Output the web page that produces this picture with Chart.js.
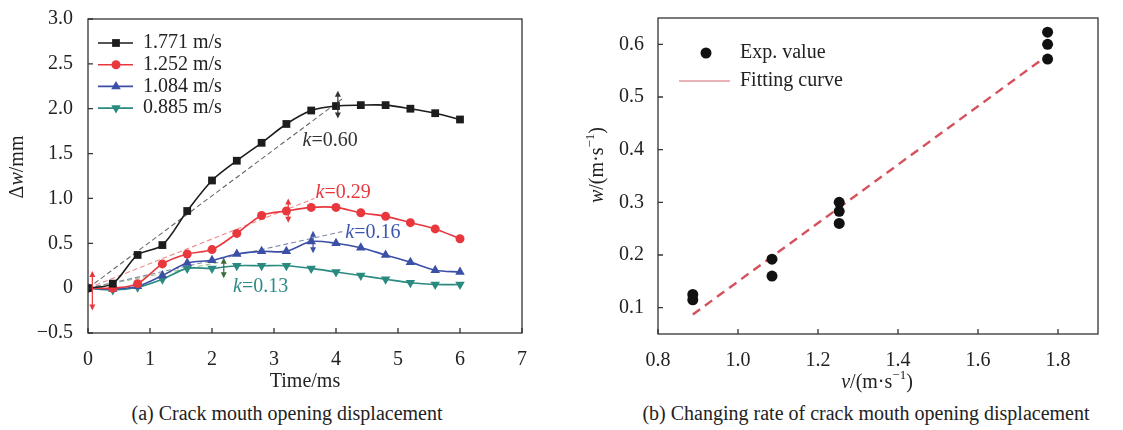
<!DOCTYPE html>
<html>
<head>
<meta charset="utf-8">
<script src="https://cdn.jsdelivr.net/npm/chart.js@4.4.1/dist/chart.umd.min.js"></script>
<style>
  body { margin: 0; background: #fff; width: 1123px; height: 430px; position: relative; overflow: hidden; font-family: "Liberation Serif", "Times New Roman", serif; }
  #left { position: absolute; left: 0; top: 0; }
  #right { position: absolute; left: 580px; top: 0; }
  .cap { position: absolute; top: 401px; font-size: 20px; line-height: 24px; color: #222; white-space: nowrap; transform: translateX(-50%); }
</style>
</head>
<body>
<canvas id="left" width="560" height="400"></canvas>
<canvas id="right" width="543" height="400"></canvas>
<div class="cap" style="left:287px">(a) Crack mouth opening displacement</div>
<div class="cap" style="left:866px">(b) Changing rate of crack mouth opening displacement</div>
<script>
const FONT = '"Liberation Serif", "Times New Roman", serif';

// ---- (a) crack mouth opening displacement ----
const times = [0, 0.4, 0.8, 1.2, 1.6, 2.0, 2.4, 2.8, 3.2, 3.6, 4.0, 4.4, 4.8, 5.2, 5.6, 6.0];
const speedLabels = ['1.771 m/s', '1.252 m/s', '1.084 m/s', '0.885 m/s'];
const dw1771 = [0, 0.05, 0.37, 0.48, 0.86, 1.20, 1.42, 1.62, 1.83, 1.98, 2.03, 2.04, 2.04, 2.00, 1.95, 1.88];
const dw1252 = [0, 0.00, 0.05, 0.27, 0.38, 0.43, 0.61, 0.81, 0.86, 0.90, 0.90, 0.84, 0.80, 0.73, 0.66, 0.55];
const dw1084 = [0, -0.01, 0.02, 0.14, 0.28, 0.31, 0.38, 0.41, 0.41, 0.52, 0.50, 0.45, 0.37, 0.29, 0.20, 0.18];
const dw0885 = [0, -0.02, 0.01, 0.10, 0.22, 0.22, 0.25, 0.25, 0.25, 0.22, 0.18, 0.14, 0.10, 0.06, 0.04, 0.04];
const seriesColors = ['#1c1c1c', '#e8383e', '#3b4fa6', '#2a8a80'];
const pointStyles = ['rect', 'circle', 'triangle', 'triangle'];
const pointRot = [0, 0, 0, 180];
const pointSizes = [5.5, 4.5, 5.5, 5.5];

// dashed slope lines (start/end in data units)
const fitT = [[0, 4.1], [0, 3.65], [0, 4.1], [0, 2.2]];
const fitW = [[0, 2.11], [0, 1.0], [0, 0.63], [0, 0.30]];
const fitColors = ['#666', '#ee8a8a', '#7d8aa8', '#9cc48c'];
const kValues = ['0.60', '0.29', '0.16', '0.13'];
const kColors = ['#333', '#e8383e', '#3a56ad', '#2e8b87'];
const kT = [3.46, 3.67, 4.15, 2.34];
const kW = [1.64, 1.06, 0.62, 0.01];

// double-headed arrows
const arrowT = [0.07, 4.03, 3.23, 3.63, 2.19];
const arrowTop = [0.19, 2.20, 1.00, 0.64, 0.34];
const arrowBottom = [-0.25, 1.89, 0.73, 0.39, 0.11];
const arrowColors = ['#e8383e', '#333', '#e8383e', '#3b4fa6', '#3d6b3a'];

const xTicksL = [0, 1, 2, 3, 4, 5, 6, 7];
const yTicksL = [-0.5, 0, 0.5, 1.0, 1.5, 2.0, 2.5, 3.0];
const yLabelsL = ['\u22120.5', '0', '0.5', '1.0', '1.5', '2.0', '2.5', '3.0'];

// ---- (b) changing rate ----
const vExp = [1.774, 1.774, 1.774, 1.253, 1.253, 1.253, 1.085, 1.085, 0.887, 0.887];
const wExp = [0.623, 0.600, 0.572, 0.300, 0.283, 0.260, 0.192, 0.160, 0.125, 0.115];
const fitV = [0.887, 1.774];
const fitRate = [0.087, 0.579];
const xTicksR = [0.8, 1.0, 1.2, 1.4, 1.6, 1.8];
const xLabelsR = ['0.8', '1.0', '1.2', '1.4', '1.6', '1.8'];
const yTicksR = [0.1, 0.2, 0.3, 0.4, 0.5, 0.6];
const yLabelsR = ['0.1', '0.2', '0.3', '0.4', '0.5', '0.6'];

// text helper: parts = [{t, i, sup}]
function drawRich(ctx, parts, x, y, size, color, align) {
  ctx.save();
  ctx.fillStyle = color;
  ctx.textBaseline = 'middle';
  ctx.textAlign = 'left';
  const fonts = parts.map(p => (p.i ? 'italic ' : '') + (p.sup ? Math.round(size * 0.65) : size) + 'px ' + FONT);
  let total = 0;
  const widths = parts.map((p, k) => { ctx.font = fonts[k]; const w = ctx.measureText(p.t).width; total += w; return w; });
  let cx = align === 'center' ? x - total / 2 : (align === 'right' ? x - total : x);
  parts.forEach((p, k) => {
    ctx.font = fonts[k];
    ctx.fillText(p.t, cx, p.sup ? y - size * 0.35 : y);
    cx += widths[k];
  });
  ctx.restore();
}

function drawMarker(ctx, style, x, y, r, color, rot) {
  ctx.save();
  ctx.fillStyle = color;
  ctx.beginPath();
  if (style === 'rect') {
    const s = r * Math.SQRT1_2;
    ctx.rect(x - s, y - s, 2 * s, 2 * s);
  } else if (style === 'circle') {
    ctx.arc(x, y, r, 0, Math.PI * 2);
  } else {
    const d = rot ? -1 : 1;
    ctx.moveTo(x, y - d * r);
    ctx.lineTo(x + r * 0.866, y + d * r * 0.5);
    ctx.lineTo(x - r * 0.866, y + d * r * 0.5);
    ctx.closePath();
  }
  ctx.fill();
  ctx.restore();
}

const framePlugin = {
  id: 'frame',
  afterDraw(chart) {
    const { ctx, chartArea: a, scales: { x, y } } = chart;
    ctx.save();
    ctx.strokeStyle = '#333';
    ctx.lineWidth = 1.3;
    ctx.strokeRect(a.left, a.top, a.width, a.height);
    ctx.beginPath();
    x.ticks.forEach(t => { const p = x.getPixelForValue(t.value); ctx.moveTo(p, a.bottom); ctx.lineTo(p, a.bottom - 5); });
    y.ticks.forEach(t => { const p = y.getPixelForValue(t.value); ctx.moveTo(a.left, p); ctx.lineTo(a.left + 5, p); });
    ctx.stroke();
    ctx.restore();
  }
};

function tickFont() { return { family: FONT, size: 20 }; }

// left chart
const leftDatasets = [dw1771, dw1252, dw1084, dw0885].map((vals, i) => ({
  label: speedLabels[i],
  data: times.map((t, k) => ({ x: t, y: vals[k] })),
  borderColor: seriesColors[i],
  backgroundColor: seriesColors[i],
  borderWidth: 1.6,
  tension: 0.3,
  pointStyle: pointStyles[i],
  rotation: pointRot[i],
  pointRadius: pointSizes[i],
  pointBorderWidth: 0,
  order: i
}));
const fitDatasets = fitT.map((ts, i) => ({
  label: 'fit' + i,
  data: ts.map((t, k) => ({ x: t, y: fitW[i][k] })),
  borderColor: fitColors[i],
  borderWidth: 1.1,
  borderDash: [5, 3],
  pointRadius: 0,
  tension: 0,
  order: 10 + i
}));

const leftExtras = {
  id: 'leftExtras',
  afterDraw(chart) {
    const { ctx, scales: { x, y } } = chart;
    // arrows
    arrowT.forEach((t, i) => {
      const px = x.getPixelForValue(t), y1 = y.getPixelForValue(arrowTop[i]), y2 = y.getPixelForValue(arrowBottom[i]);
      ctx.save();
      ctx.strokeStyle = arrowColors[i]; ctx.fillStyle = arrowColors[i]; ctx.lineWidth = 1.2;
      ctx.beginPath(); ctx.moveTo(px, y1 + 3); ctx.lineTo(px, y2 - 3); ctx.stroke();
      ctx.beginPath(); ctx.moveTo(px, y1); ctx.lineTo(px - 3, y1 + 6); ctx.lineTo(px + 3, y1 + 6); ctx.closePath(); ctx.fill();
      ctx.beginPath(); ctx.moveTo(px, y2); ctx.lineTo(px - 3, y2 - 6); ctx.lineTo(px + 3, y2 - 6); ctx.closePath(); ctx.fill();
      ctx.restore();
    });
    // k labels
    kValues.forEach((k, i) => {
      drawRich(ctx, [{ t: 'k', i: true }, { t: '=' + k }], x.getPixelForValue(kT[i]), y.getPixelForValue(kW[i]), 20, kColors[i], 'left');
    });
    // legend
    speedLabels.forEach((lab, i) => {
      const ly = 43 + i * 21.7;
      ctx.save();
      ctx.strokeStyle = seriesColors[i]; ctx.lineWidth = 1.6;
      ctx.beginPath(); ctx.moveTo(98, ly); ctx.lineTo(133, ly); ctx.stroke();
      ctx.restore();
      drawMarker(ctx, pointStyles[i], 116, ly, pointSizes[i], seriesColors[i], pointRot[i]);
      drawRich(ctx, [{ t: lab }], 143, ly, 20, '#222', 'left');
    });
    // axis titles
    drawRich(ctx, [{ t: 'Time/ms' }], 305, 382, 20, '#222', 'center');
    ctx.save();
    ctx.translate(18, 167); ctx.rotate(-Math.PI / 2);
    drawRich(ctx, [{ t: '\u0394' }, { t: 'w', i: true }, { t: '/mm' }], 0, 0, 20, '#222', 'center');
    ctx.restore();
  }
};

new Chart(document.getElementById('left'), {
  type: 'line',
  data: { datasets: leftDatasets.concat(fitDatasets) },
  options: {
    responsive: false,
    animation: false,
    layout: { padding: { left: 0, top: 17, right: 38, bottom: 0 } },
    plugins: { legend: { display: false }, tooltip: { enabled: false } },
    scales: {
      x: {
        type: 'linear', min: 0, max: 7,
        afterBuildTicks: s => { s.ticks = xTicksL.map(v => ({ value: v })); },
        afterFit: s => { s.height = 67; },
        grid: { display: false }, border: { display: false },
        ticks: { autoSkip: false, maxRotation: 0, padding: 7, color: '#222', font: tickFont(), callback: (v, i) => String(xTicksL[i]) }
      },
      y: {
        type: 'linear', min: -0.5, max: 3,
        afterBuildTicks: s => { s.ticks = yTicksL.map(v => ({ value: v })); },
        afterFit: s => { s.width = 88; },
        grid: { display: false }, border: { display: false },
        ticks: { autoSkip: false, padding: 7, color: '#222', font: tickFont(), callback: (v, i) => yLabelsL[i] }
      }
    }
  },
  plugins: [framePlugin, leftExtras]
});

// right chart
const rightExtras = {
  id: 'rightExtras',
  afterDraw(chart) {
    const { ctx } = chart;
    drawMarker(ctx, 'circle', 126, 53, 5.5, '#111', 0);
    drawRich(ctx, [{ t: 'Exp. value' }], 160, 53, 20, '#222', 'left');
    ctx.save();
    ctx.strokeStyle = '#e09aa2'; ctx.lineWidth = 1.5;
    ctx.beginPath(); ctx.moveTo(99, 81); ctx.lineTo(150, 81); ctx.stroke();
    ctx.restore();
    drawRich(ctx, [{ t: 'Fitting curve' }], 160, 81, 20, '#222', 'left');
    drawRich(ctx, [{ t: 'v', i: true }, { t: '/(m\u00b7s' }, { t: '\u22121', sup: true }, { t: ')' }], 297, 383, 20, '#222', 'center');
    ctx.save();
    ctx.translate(18, 165); ctx.rotate(-Math.PI / 2);
    drawRich(ctx, [{ t: 'w', i: true }, { t: '/(m\u00b7s' }, { t: '\u22121', sup: true }, { t: ')' }], 0, 0, 20, '#222', 'center');
    ctx.restore();
  }
};

new Chart(document.getElementById('right'), {
  type: 'scatter',
  data: {
    datasets: [
      {
        label: 'Exp. value',
        data: vExp.map((v, k) => ({ x: v, y: wExp[k] })),
        backgroundColor: '#111', borderWidth: 0, pointRadius: 5.5, order: 0
      },
      {
        label: 'Fitting curve',
        data: fitV.map((v, k) => ({ x: v, y: fitRate[k] })),
        showLine: true, borderColor: '#d4525c', borderWidth: 2.4, borderDash: [9, 6], pointRadius: 0, order: 1
      }
    ]
  },
  options: {
    responsive: false,
    animation: false,
    layout: { padding: { left: 0, top: 17, right: 25, bottom: 0 } },
    plugins: { legend: { display: false }, tooltip: { enabled: false } },
    scales: {
      x: {
        type: 'linear', min: 0.8, max: 1.9,
        afterBuildTicks: s => { s.ticks = xTicksR.map(v => ({ value: v })); },
        afterFit: s => { s.height = 66; },
        grid: { display: false }, border: { display: false },
        ticks: { autoSkip: false, maxRotation: 0, padding: 7, color: '#222', font: tickFont(), callback: (v, i) => xLabelsR[i] }
      },
      y: {
        type: 'linear', min: 0.05, max: 0.65,
        afterBuildTicks: s => { s.ticks = yTicksR.map(v => ({ value: v })); },
        afterFit: s => { s.width = 78; },
        grid: { display: false }, border: { display: false },
        ticks: { autoSkip: false, padding: 6, color: '#222', font: tickFont(), callback: (v, i) => yLabelsR[i] }
      }
    }
  },
  plugins: [framePlugin, rightExtras]
});
</script>
</body>
</html>
